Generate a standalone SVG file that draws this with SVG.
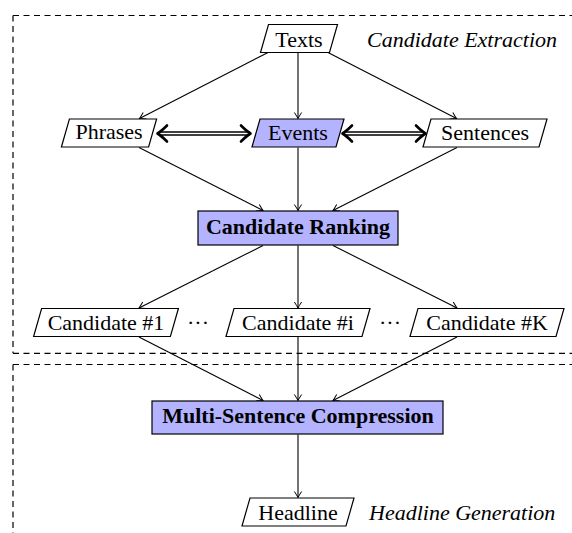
<svg xmlns="http://www.w3.org/2000/svg" width="572" height="533" viewBox="0 0 572 533">
<defs>
<style>
.t{font-family:"Liberation Serif","Times New Roman",serif;font-size:22px;fill:#000;text-anchor:middle}
.b{font-weight:bold}
.i{font-style:italic;text-anchor:start}
.para{fill:#fff;stroke:#000;stroke-width:1.2}
.hl{fill:#B3B3FF;stroke:#000;stroke-width:1.2}
.c{stroke:#000;stroke-width:1.1;fill:none;marker-end:url(#tip)}
.dash{stroke:#000;stroke-width:1.2;fill:none;stroke-dasharray:6 4.5}
.dblo{stroke:#000;stroke-width:4.6;fill:none}
.dbli{stroke:#fff;stroke-width:1.6;fill:none}
.imp{stroke:#000;stroke-width:2.6;fill:none;stroke-linecap:round;stroke-linejoin:round}
</style>
<marker id="tip" viewBox="-7 -5 8 10" refX="0" refY="0" markerWidth="8" markerHeight="10" markerUnits="userSpaceOnUse" orient="auto">
<path d="M -6 -3.6 Q -2 -1 0 0 Q -2 1 -6 3.6" stroke="#000" stroke-width="1" fill="none"/>
</marker>
</defs>
<g id="frames">
<path class="dash" d="M 13 15.5 H 590"/>
<path class="dash" d="M 13 15.5 V 353.3"/>
<path class="dash" d="M 13 353.3 H 590"/>
<path class="dash" d="M 13 364.5 H 590"/>
<path class="dash" d="M 13 364.5 V 545"/>
</g>
<g id="connectors">
<line class="c" x1="268" y1="52.5" x2="139.5" y2="118.5"/>
<line class="c" x1="298" y1="52.5" x2="298" y2="118.5"/>
<line class="c" x1="328" y1="52.5" x2="456.5" y2="118.5"/>
<line class="c" x1="139" y1="147.5" x2="263" y2="210.5"/>
<line class="c" x1="298" y1="147.5" x2="298" y2="210.5"/>
<line class="c" x1="457" y1="147.5" x2="333" y2="210.5"/>
<line class="c" x1="263" y1="245.5" x2="139" y2="308"/>
<line class="c" x1="298" y1="245.5" x2="298" y2="308"/>
<line class="c" x1="333" y1="245.5" x2="457" y2="308"/>
<line class="c" x1="139" y1="337" x2="263" y2="400.5"/>
<line class="c" x1="298" y1="337" x2="298" y2="400.5"/>
<line class="c" x1="457" y1="337" x2="333" y2="400.5"/>
<line class="c" x1="298" y1="434.5" x2="298" y2="497.5"/>
<path class="dblo" d="M 159 133.5 H 250"/>
<path class="dbli" d="M 158 133.5 H 251"/>
<path class="imp" d="M 167 125.5 Q 161 131.5 157.5 133.5 Q 161 135.5 167 141.5"/>
<path class="imp" d="M 241 125.5 Q 247 131.5 250.5 133.5 Q 247 135.5 241 141.5"/>
<path class="dblo" d="M 344 133.5 H 424"/>
<path class="dbli" d="M 343 133.5 H 425"/>
<path class="imp" d="M 352 125.5 Q 346 131.5 342.5 133.5 Q 346 135.5 352 141.5"/>
<path class="imp" d="M 416 125.5 Q 422 131.5 425.5 133.5 Q 422 135.5 416 141.5"/>
</g>
<g id="texts">
<polygon class="para" points="268.5,24.5 337.5,24.5 329.5,52.5 260.5,52.5"/>
<text class="t" x="299" y="46.5">Texts</text>
</g>
<text id="label-extraction" class="t i" x="367" y="46.5">Candidate Extraction</text>
<g id="phrases">
<polygon class="para" points="69.4,119 156.6,119 148.6,147 61.4,147"/>
<text class="t" x="109" y="139">Phrases</text>
</g>
<g id="events">
<polygon class="hl" points="260,119 344,119 336,147 252,147"/>
<text class="t" x="298" y="140">Events</text>
</g>
<g id="sentences">
<polygon class="para" points="431,119 547,119 539,147 423,147"/>
<text class="t" x="485" y="140">Sentences</text>
</g>
<g id="ranking">
<rect class="hl" x="198" y="211" width="200" height="34"/>
<text class="t b" x="298" y="234">Candidate Ranking</text>
</g>
<g id="cand1">
<polygon class="para" points="41.6,308.5 178.4,308.5 170.4,336.5 33.6,336.5"/>
<text class="t" x="106" y="330">Candidate #1</text>
</g>
<text class="t" x="198" y="330">···</text>
<g id="candi">
<polygon class="para" points="234,308.5 370,308.5 362,336.5 226,336.5"/>
<text class="t" x="298" y="330">Candidate #i</text>
</g>
<text class="t" x="390" y="330">···</text>
<g id="candK">
<polygon class="para" points="418,308.5 564,308.5 556,336.5 410,336.5"/>
<text class="t" x="487" y="330">Candidate #K</text>
</g>
<g id="msc">
<rect class="hl" x="152" y="401" width="291" height="33"/>
<text class="t b" x="298" y="423">Multi-Sentence Compression</text>
</g>
<g id="headline">
<polygon class="para" points="250,498 354,498 346,526 242,526"/>
<text class="t" x="298" y="519.5">Headline</text>
</g>
<text id="label-generation" class="t i" x="369" y="519.5">Headline Generation</text>
</svg>
